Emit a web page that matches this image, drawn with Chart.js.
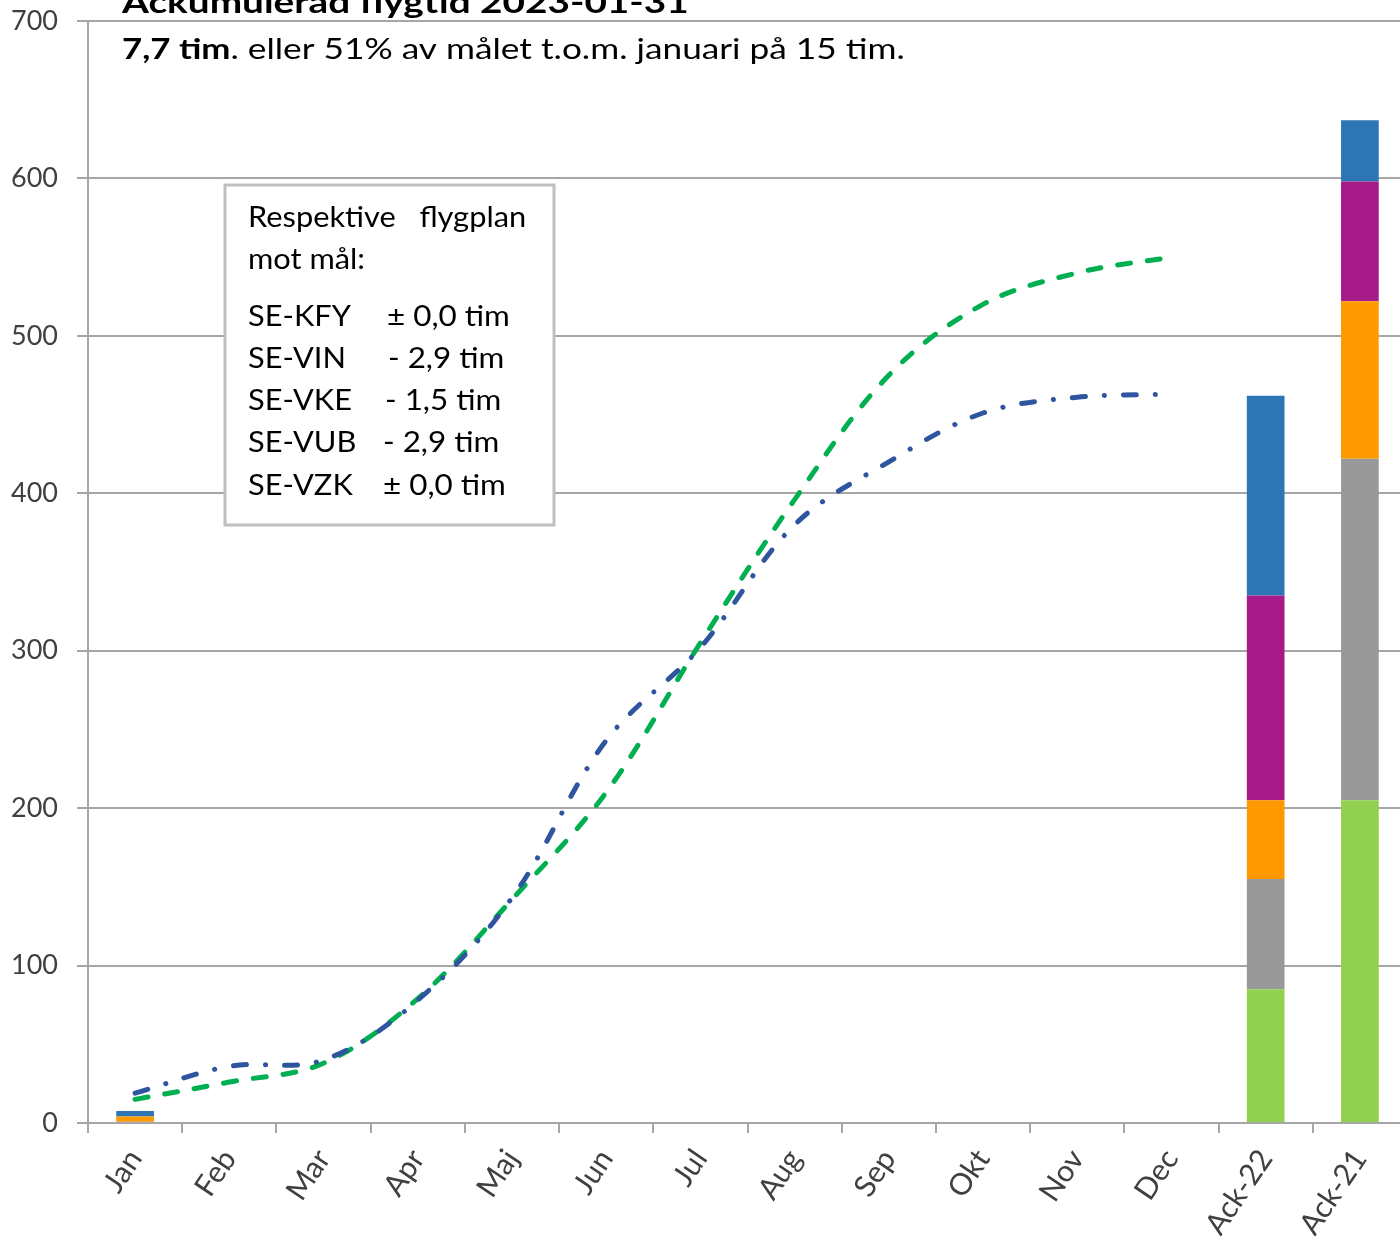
<!DOCTYPE html>
<html>
<head>
<meta charset="utf-8">
<script src="https://cdn.jsdelivr.net/npm/chart.js@4.4.1/dist/chart.umd.min.js"></script>
<style>
  html, body { margin: 0; padding: 0; background: #ffffff; overflow: hidden; }
  #wrap { position: relative; width: 1407px; height: 1236px; }
</style>
</head>
<body>
<div id="wrap"><canvas id="c"></canvas></div>
<script>
// ---- data ----
const categories = ['Jan','Feb','Mar','Apr','Maj','Jun','Jul','Aug','Sep','Okt','Nov','Dec','Ack-22','Ack-21'];
const yTicks = [0,100,200,300,400,500,600,700];

// stacked bar series (bottom to top)
const barGreen   = [0,   null,null,null,null,null,null,null,null,null,null,null, 85, 205];
const barGray    = [0.8, null,null,null,null,null,null,null,null,null,null,null, 70, 217];
const barOrange  = [3.4, null,null,null,null,null,null,null,null,null,null,null, 50, 100];
const barMagenta = [0,   null,null,null,null,null,null,null,null,null,null,null, 130, 76];
const barBlue    = [3.5, null,null,null,null,null,null,null,null,null,null,null, 127, 39];

// cumulative lines
const goalLine = [15, 26, 38, 79, 142, 210, 305, 396, 475, 520, 540, 550, null, null];
const ack22Line = [19, 36, 40, 78, 143, 243, 302, 380, 420, 451, 461, 463, null, null];

const titleText = 'Ackumulerad flygtid 2023-01-31';
const subBold = '7,7 tim';
const subRest = '. eller 51% av målet t.o.m. januari på 15 tim.';
const boxHead = ['Respektive   flygplan', 'mot mål:'];
const boxNames = ['SE-KFY', 'SE-VIN', 'SE-VKE', 'SE-VUB', 'SE-VZK'];
const boxValues = ['± 0,0 tim', '- 2,9 tim', '- 1,5 tim', '- 2,9 tim', '± 0,0 tim'];

// ---- drawing ----
const FONT = 'Lato, "Open Sans", sans-serif';
const GRID = '#a6a6a6';

function drawText(ctx, text, x, y, font, sx) {
  ctx.save();
  ctx.font = font;
  ctx.translate(x, y);
  ctx.scale(sx, 1);
  ctx.fillText(text, 0, 0);
  const w = ctx.measureText(text).width * sx;
  ctx.restore();
  return w;
}

const overlay = {
  id: 'overlay',
  afterDraw(chart) {
    const ctx = chart.ctx;
    ctx.save();
    ctx.fillStyle = '#000000';
    ctx.textBaseline = 'alphabetic';
    ctx.textAlign = 'left';
    // title
    drawText(ctx, titleText, 122, 13, 'bold 31px ' + FONT, 1.25);
    // subtitle
    const w = drawText(ctx, subBold, 122, 59, 'bold 29px ' + FONT, 1.2);
    drawText(ctx, subRest, 122 + w, 59, '29px ' + FONT, 1.215);

    // text box
    ctx.fillStyle = '#ffffff';
    ctx.fillRect(225, 185, 329, 340);
    ctx.strokeStyle = '#bfbfbf';
    ctx.lineWidth = 3;
    ctx.strokeRect(225, 185, 329, 340);
    ctx.fillStyle = '#000000';
    ctx.textBaseline = 'middle';
    const bf = '28px ' + FONT;
    drawText(ctx, boxHead[0], 248, 218, bf, 1.1);
    drawText(ctx, boxHead[1], 248, 260, bf, 1.1);
    const ys = [317, 359, 401, 443, 486];
    const xs = [387, 388, 385, 383, 383];
    for (let i = 0; i < boxNames.length; i++) {
      drawText(ctx, boxNames[i], 248, ys[i], bf, 1.1);
      drawText(ctx, boxValues[i], xs[i], ys[i], bf, 1.12);
    }
    ctx.restore();
  }
};

const barCommon = { type: 'bar', stack: 'bars', barPercentage: 0.4, categoryPercentage: 1.0, borderWidth: 0, order: 2 };

new Chart(document.getElementById('c'), {
  data: {
    labels: categories,
    datasets: [
      Object.assign({ label: 'SE-KFY', data: barGreen, backgroundColor: '#92d050' }, barCommon),
      Object.assign({ label: 'SE-VIN', data: barGray, backgroundColor: '#999999' }, barCommon),
      Object.assign({ label: 'SE-VKE', data: barOrange, backgroundColor: '#ff9900' }, barCommon),
      Object.assign({ label: 'SE-VUB', data: barMagenta, backgroundColor: '#a61b88' }, barCommon),
      Object.assign({ label: 'SE-VZK', data: barBlue, backgroundColor: '#2e75b6' }, barCommon),
      {
        type: 'line', label: 'Mål 2023', data: goalLine, stack: 'goal', order: 1,
        borderColor: '#00b050', borderWidth: 5, borderDash: [13, 17], borderCapStyle: 'round',
        tension: 0.35, pointRadius: 0, fill: false, spanGaps: false
      },
      {
        type: 'line', label: 'Ack-22', data: ack22Line, stack: 'ack22', order: 0,
        borderColor: '#2f55a0', borderWidth: 5, borderDash: [13, 19, 0.1, 19], borderCapStyle: 'round',
        tension: 0.35, pointRadius: 0, fill: false, spanGaps: false
      }
    ]
  },
  options: {
    responsive: true,
    maintainAspectRatio: false,
    animation: false,
    devicePixelRatio: 1,
    layout: { padding: { top: 21, left: 0, right: 0, bottom: 0 } },
    plugins: { legend: { display: false }, tooltip: { enabled: false } },
    scales: {
      x: {
        stacked: true,
        offset: true,
        grid: { display: true, offset: true, drawOnChartArea: false, drawTicks: true, tickLength: 10, color: GRID, lineWidth: 2 },
        border: { display: true, color: GRID, width: 2 },
        ticks: { minRotation: 56, maxRotation: 56, autoSkip: false, padding: 10, color: '#404040', font: { family: FONT, size: 30 } },
        afterFit(scale) { scale.height = 113; scale.paddingLeft = 0; scale.paddingRight = 0; }
      },
      y: {
        stacked: true,
        min: 0, max: 700,
        afterBuildTicks(scale) { scale.ticks = yTicks.map(v => ({ value: v })); },
        grid: { display: true, drawTicks: true, tickLength: 11, color: GRID, lineWidth: 2 },
        border: { display: true, color: GRID, width: 2 },
        ticks: { padding: 19, color: '#404040', font: { family: FONT, size: 27 } },
        afterFit(scale) { scale.width = 88; scale.paddingTop = 0; scale.paddingBottom = 0; }
      }
    }
  },
  plugins: [overlay]
});
</script>
</body>
</html>
